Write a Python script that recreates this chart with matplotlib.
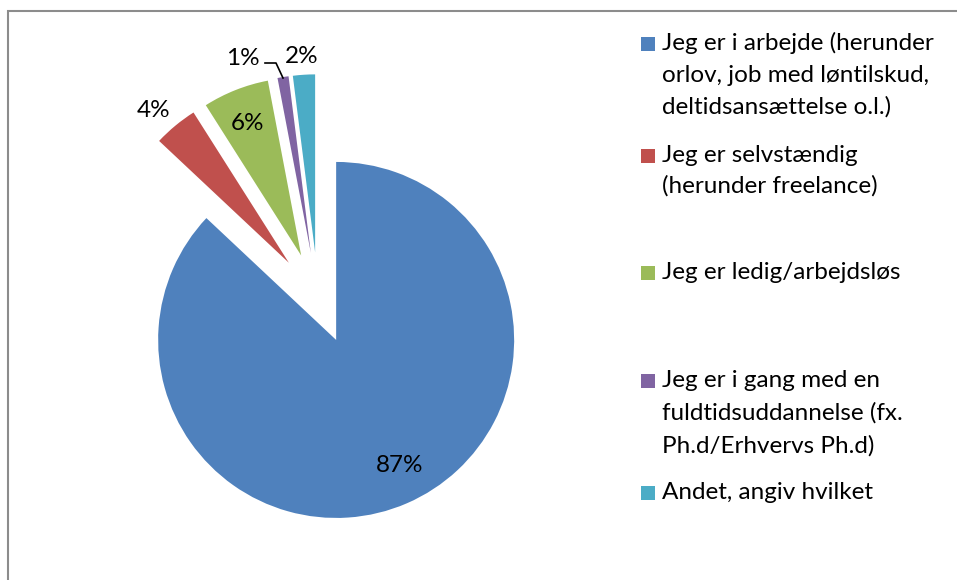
import matplotlib as mpl
mpl.rcParams['font.family'] = ['Lato', 'DejaVu Sans']
import matplotlib.pyplot as plt
from matplotlib.patches import Rectangle

# Data
labels = ['Jeg er i arbejde (herunder\norlov, job med løntilskud,\ndeltidsansættelse o.l.)',
          'Jeg er selvstændig\n(herunder freelance)',
          'Jeg er ledig/arbejdsløs',
          'Jeg er i gang med en\nfuldtidsuddannelse (fx.\nPh.d/Erhvervs Ph.d)',
          'Andet, angiv hvilket']
values = [87, 4, 6, 1, 2]
colors = ['#4F81BD', '#C0504D', '#9BBB59', '#8064A2', '#4BACC6']

W, H = 957, 580
def Y(y):
    return H - y

fig = plt.figure(figsize=(W/100, H/100), dpi=100)
ax = fig.add_axes([0, 0, 1, 1])

# explode is in data units (pixels) here
ax.pie(values, colors=colors, startangle=90, counterclock=False,
       center=(318, Y(298)), radius=178, explode=[45.7]*len(values),
       wedgeprops=dict(linewidth=0))
ax.set_xlim(0, W)
ax.set_ylim(0, H)
ax.set_aspect('equal')
ax.axis('off')

fs = 17.5

# percent labels (x, baseline) in pixels
lab_pos = [(400, 472), (154, 117), (248, 130), (243, 65), (302, 63)]
for v, (x, y) in zip(values, lab_pos):
    ax.text(x, Y(y), '%d%%' % v, ha='center', va='baseline', fontsize=fs, color='#000000')

# leader line for 1%
ax.plot([265, 276, 283], [Y(63), Y(63), Y(78)], color='k', lw=1.2)

# legend
baselines = [[50, 82, 114], [162, 193], [279], [387, 420, 453], [499]]
for lab, c, bl in zip(labels, colors, baselines):
    ax.add_patch(Rectangle((641, Y(bl[0] - 6) - 7), 14, 14, color=c, lw=0))
    for line, b in zip(lab.split('\n'), bl):
        ax.text(662, Y(b), line, ha='left', va='baseline', fontsize=fs, color='#000000')

# chart frame (top and left visible)
ax.plot([7.5, 7.5, W], [0, Y(10.5), Y(10.5)], color='#8c8c8c', lw=1.5, solid_joinstyle='miter')

plt.savefig('out.png', dpi=100)
